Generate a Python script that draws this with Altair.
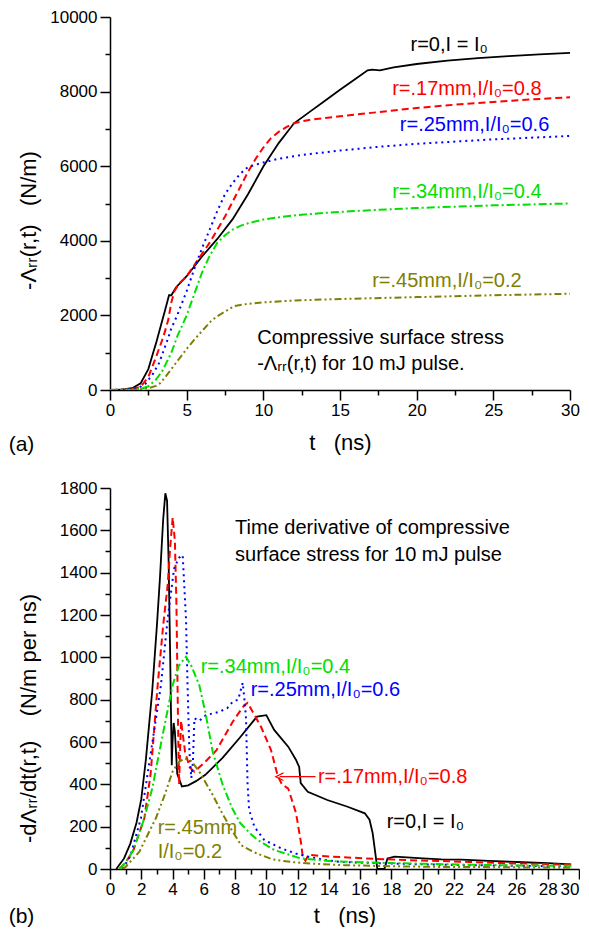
import altair as alt
import pandas as pd

FONT = "Liberation Sans"
SP = "\u00a0"

# ---------- panel (a): -Lambda_rr(r,t), N/m ----------
a_t_black = [0, 0.5, 1.0, 1.5, 2.0, 2.5, 2.8, 3.0, 3.3, 3.6, 3.85, 4.0, 4.3, 5.0, 6.0, 7.0, 8.0, 9.0,
             10, 11, 12, 13, 14, 15, 16, 16.8, 17.1, 17.6, 18.5, 20, 22, 24, 26, 28, 30]
a_v_black = [0, 2, 20, 60, 180, 560, 980, 1250, 1700, 2150, 2540, 2540, 2750, 3050, 3580, 4050, 4580, 5250,
             5990, 6620, 7150, 7450, 7750, 8050, 8340, 8570, 8590, 8570, 8650, 8740, 8830, 8900, 8950, 9000, 9040]

a_t_red = [0, 1, 1.5, 2.0, 2.5, 3.0, 3.5, 3.8, 4.0, 4.2, 4.5, 5.0, 5.5, 6.0, 6.5, 7.0, 7.5, 8.0, 8.5, 9.0,
           9.5, 10, 10.5, 11, 11.5, 12, 12.5, 13, 15, 17.5, 20, 22.5, 25, 27.5, 30]
a_v_red = [0, 10, 35, 90, 350, 880, 1450, 1880, 2350, 2650, 2850, 3050, 3350, 3650, 3950, 4300, 4650, 5050, 5450, 5850,
           6200, 6500, 6750, 6920, 7050, 7150, 7200, 7240, 7340, 7450, 7560, 7650, 7720, 7790, 7850]

a_t_blue = [0, 1.0, 1.5, 2.0, 2.3, 2.8, 3.2, 3.8, 4.0, 4.4, 5.0, 5.5, 6.0, 6.5, 7.0, 7.5, 8.0, 8.5, 9.0,
            10, 11, 12.5, 15, 17.5, 20, 25, 30]
a_v_blue = [0, 10, 30, 90, 160, 430, 720, 1400, 1650, 2020, 2650, 3250, 3800, 4300, 4800, 5250, 5550, 5800, 5980,
            6100, 6200, 6300, 6420, 6520, 6600, 6720, 6810]

a_t_green = [0, 1.5, 2.0, 2.5, 3.0, 3.4, 4.0, 4.4, 5.0, 5.6, 6.0, 6.5, 7.0, 7.5, 8.0, 8.5, 9.0,
             10, 11, 12, 14, 17, 20, 25, 30]
a_v_green = [0, 10, 30, 100, 280, 500, 1000, 1450, 2000, 2690, 3150, 3600, 3950, 4150, 4300, 4400, 4470,
             4570, 4630, 4680, 4750, 4820, 4880, 4950, 5000]

a_t_olive = [0, 1.5, 2.0, 2.5, 3.0, 3.3, 3.8, 4.4, 5.0, 5.5, 6.0, 6.6, 7.0, 7.5, 8.1, 9, 10, 12, 15, 20, 25, 30]
a_v_olive = [0, 5, 20, 50, 110, 190, 450, 780, 1100, 1350, 1580, 1850, 1980, 2100, 2250, 2310, 2350, 2400, 2440,
             2490, 2540, 2580]

# ---------- panel (b): -dLambda_rr/dt, N/m per ns ----------
b_t_black = [0.4, 0.9, 1.3, 1.7, 2.0, 2.3, 2.7, 3.0, 3.2, 3.4, 3.54, 3.65, 3.75, 3.85, 3.95, 4.0, 4.07, 4.15, 4.3,
             4.6, 5.0, 5.5, 6.1, 7.2, 8.3, 9.4, 10.0, 10.5, 11.4, 11.9, 12.1, 12.2, 12.65, 13.9, 15.2, 16.3, 16.6,
             16.8, 17.0, 17.1, 17.55, 17.75, 18.2, 19, 20, 21.2, 22.5, 24.2, 26, 28, 29.5]
b_v_black = [0, 50, 120, 220, 330, 520, 840, 1150, 1380, 1650, 1775, 1740, 1450, 1000, 490, 600, 690, 650, 450,
             390, 395, 415, 445, 525, 620, 720, 727, 657, 578, 515, 482, 406, 365, 326, 294, 263, 233,
             170, 58, 0, 0, 50, 58, 55, 50, 45, 44, 38, 33, 28, 22]

b_t_red = [0.6, 1.0, 1.5, 2.2, 2.6, 3.05, 3.4, 3.69, 3.85, 4.01, 4.15, 4.25, 4.35, 4.42, 4.5, 4.55, 4.65, 4.8, 5.1,
           5.4, 6.1, 6.8, 7.85, 8.6, 8.8, 9.0, 9.66, 10.3, 10.73, 11.0, 11.4, 11.9, 12.22, 12.33, 12.5, 12.7,
           13.5, 15, 17, 19, 21, 23, 25, 27, 29.5]
b_v_red = [0, 30, 90, 241, 450, 869, 1150, 1342, 1520, 1661, 1550, 1250, 700, 400, 600, 700, 640, 554, 480,
           460, 507, 560, 696, 775, 785, 759, 672, 562, 440, 400, 380, 264, 123, 58, 40, 67,
           62, 55, 48, 42, 38, 33, 28, 25, 20]

b_t_blue = [0.8, 1.3, 1.98, 2.62, 3.26, 3.69, 4.1, 4.4, 4.65, 4.86, 4.96, 5.08, 5.2, 5.3, 5.4, 5.7, 6.14, 7.0,
            7.5, 7.85, 8.2, 8.49, 8.6, 8.7, 8.8, 8.9, 9.23, 9.87, 10.94, 12, 12.7, 13.8, 14.8, 17, 20, 23, 26, 29.5]
b_v_blue = [0, 60, 241, 554, 869, 1184, 1420, 1470, 1483, 1184, 869, 554, 430, 500, 712, 700, 727, 743,
            760, 790, 800, 880, 800, 712, 400, 280, 200, 137, 98, 70, 58, 42, 33, 28, 22, 18, 15, 12]

b_t_green = [0.6, 1.0, 1.5, 2.2, 2.7, 3.16, 3.58, 4.01, 4.4, 4.86, 5.2, 5.71, 6.1, 6.57, 7.21, 7.8, 8.3, 9.0,
             9.45, 10.5, 12.2, 14, 16, 18, 20, 23, 26, 29.5]
b_v_green = [0, 30, 90, 241, 380, 554, 712, 869, 960, 1003, 960, 869, 740, 554, 397, 290, 220, 165,
             137, 90, 50, 38, 32, 28, 25, 20, 17, 15]

b_t_olive = [0.8, 1.0, 1.88, 2.94, 3.5, 4.0, 4.4, 4.76, 5.2, 5.71, 6.57, 7.2, 7.85, 8.38, 9.13, 9.45, 10.4,
             11.6, 13, 15, 18, 21, 24, 27, 29.5]
b_v_olive = [0, 10, 82, 241, 350, 460, 505, 523, 510, 460, 350, 260, 176, 113, 82, 72, 45,
             33, 25, 18, 13, 10, 9, 7, 6]

# ---------- labels ----------
a_lab_text = ["r=0,I = I₀", "r=.17mm,I/I₀=0.8", "r=.25mm,I/I₀=0.6", "r=.34mm,I/I₀=0.4", "r=.45mm,I/I₀=0.2",
              "Compressive surface stress", SP + "-Λᵣᵣ(r,t) for 10 mJ pulse."]
a_lab_t = [19.6, 18.4, 18.9, 18.4, 17.1, 9.6, 9.6]
a_lab_v = [9250, 8080, 7100, 5320, 2910, 1400, 690]
a_lab_color = ["#000000", "#ff0000", "#0000ff", "#00e000", "#808000", "#000000", "#000000"]

b_lab_text = ["Time derivative of compressive", "surface stress for 10 mJ pulse", "r=.34mm,I/I₀=0.4",
              "r=.25mm,I/I₀=0.6", "r=.17mm,I/I₀=0.8", "r=0,I = I₀", "r=.45mm", "I/I₀=0.2"]
b_lab_t = [8.0, 8.0, 5.8, 9.0, 13.3, 17.7, 3.05, 3.05]
b_lab_v = [1609, 1483, 955, 846, 436, 224, 192, 82]
b_lab_color = ["#000000", "#000000", "#00e000", "#0000ff", "#ff0000", "#000000", "#808000", "#808000"]

b_arrow_t = [10.85, 13.15]
b_arrow_v = [436, 436]

COLORS = {"black": "#000000", "red": "#ff0000", "blue": "#0000ff", "green": "#00e000", "olive": "#808000"}
DASHES = {"black": None, "red": [7, 4], "blue": [2, 4], "green": [8, 3, 2, 3], "olive": [7, 3, 2, 3, 2, 3]}


def minor_tick(step):
    return {"condition": {"test": f"datum.value % {step} === 0", "value": 10}, "value": 5}


def make_enc(xvals, xmajor, yvals, ymajor, ydom, ytitle, xtpad, ty, last_right):
    xsc = alt.Scale(domain=[0, 30], nice=False, zero=False)
    ysc = alt.Scale(domain=ydom, nice=False)
    xkw = {}
    if last_right:
        xkw["labelAlign"] = {"condition": {"test": "datum.value === 30", "value": "right"}, "value": "center"}
    xax = alt.Axis(values=xvals, labelExpr=f"datum.value % {xmajor} === 0 ? datum.label : ''",
                   tickSize=minor_tick(xmajor), labelFlush=False, labelOverlap=False,
                   title="t" + SP * 3 + "(ns)", labelPadding=2, titlePadding=xtpad, **xkw)
    yax = alt.Axis(values=yvals, labelExpr=f"datum.value % {ymajor} === 0 ? datum.label : ''",
                   tickSize=minor_tick(ymajor), labelFlush=False, labelOverlap=False, format="d",
                   title=ytitle, labelPadding=3, titleX=-70, titleY=ty)
    return (alt.X("t:Q", scale=xsc, axis=xax), alt.Y("v:Q", scale=ysc, axis=yax))


def panel(series, labels, enc, h, tag, tag_dy):
    ex, ey = enc
    layers = []
    for name, (t, v) in series.items():
        df = pd.DataFrame({"t": t, "v": v})
        kw = dict(color=COLORS[name], strokeWidth=1.8 if name == "black" else 2, clip=True)
        if DASHES[name] is not None:
            kw["strokeDash"] = DASHES[name]
        layers.append(alt.Chart(df).mark_line(**kw).encode(x=ex, y=ey))
    ldf = pd.DataFrame({"t": labels[0], "v": labels[1], "s": labels[2], "c": labels[3]})
    layers.append(alt.Chart(ldf).mark_text(align="left", baseline="middle", font=FONT, fontSize=20).encode(
        x=ex, y=ey, text="s:N", color=alt.Color("c:N", scale=None)))
    layers.append(alt.Chart(pd.DataFrame({"s": [tag]})).mark_text(
        align="center", baseline="middle", font=FONT, fontSize=21).encode(
        text="s:N", x=alt.value(-88.5), y=alt.value(h + tag_dy)))
    return layers


H_A, H_B = 373, 381

enc_a = make_enc([i * 2.5 for i in range(13)], 5, [i * 1000 for i in range(11)], 2000, [0, 10000],
                 "-Λᵣᵣ(r,t)" + SP * 3 + "(N/m)", 14, 203, False)
top = alt.layer(*panel(
    {"black": (a_t_black, a_v_black), "red": (a_t_red, a_v_red), "blue": (a_t_blue, a_v_blue),
     "green": (a_t_green, a_v_green), "olive": (a_t_olive, a_v_olive)},
    (a_lab_t, a_lab_v, a_lab_text, a_lab_color), enc_a, H_A, "(a)", 55)).properties(width=460, height=H_A)

enc_b = make_enc(list(range(31)), 2, [i * 100 for i in range(19)], 200, [0, 1800],
                 "-dΛᵣᵣ/dt(r,t)" + SP * 4 + "(N/m per ns)", 8, 230, True)
b_layers = panel(
    {"black": (b_t_black, b_v_black), "red": (b_t_red, b_v_red), "blue": (b_t_blue, b_v_blue),
     "green": (b_t_green, b_v_green), "olive": (b_t_olive, b_v_olive)},
    (b_lab_t, b_lab_v, b_lab_text, b_lab_color), enc_b, H_B, "(b)", 48)
arrow_df = pd.DataFrame({"t": b_arrow_t, "v": b_arrow_v})
b_layers.append(alt.Chart(arrow_df).mark_line(color="#ff0000", strokeWidth=1.2).encode(x=enc_b[0], y=enc_b[1]))
b_layers.append(alt.Chart(arrow_df.iloc[:1]).mark_point(
    shape="M1,-1L-1,0L1,1", filled=False, color="#ff0000", strokeWidth=1.2, size=60, opacity=1).encode(
    x=enc_b[0], y=enc_b[1]))
bottom = alt.layer(*b_layers).properties(width=469, height=H_B)

chart = alt.vconcat(top, bottom, spacing=98, bounds="flush").configure(
    padding={"left": 0, "top": 0, "right": 0, "bottom": 0}
).configure_view(stroke=None).configure_axis(
    grid=False, domainColor="black", domainWidth=1.5, tickColor="black", tickWidth=1.5,
    labelColor="black", titleColor="black", labelFont=FONT, titleFont=FONT,
    labelFontSize=17, titleFontSize=22, titleFontWeight="normal")

chart.save("out.html", embed_options={"renderer": "svg", "actions": False})
